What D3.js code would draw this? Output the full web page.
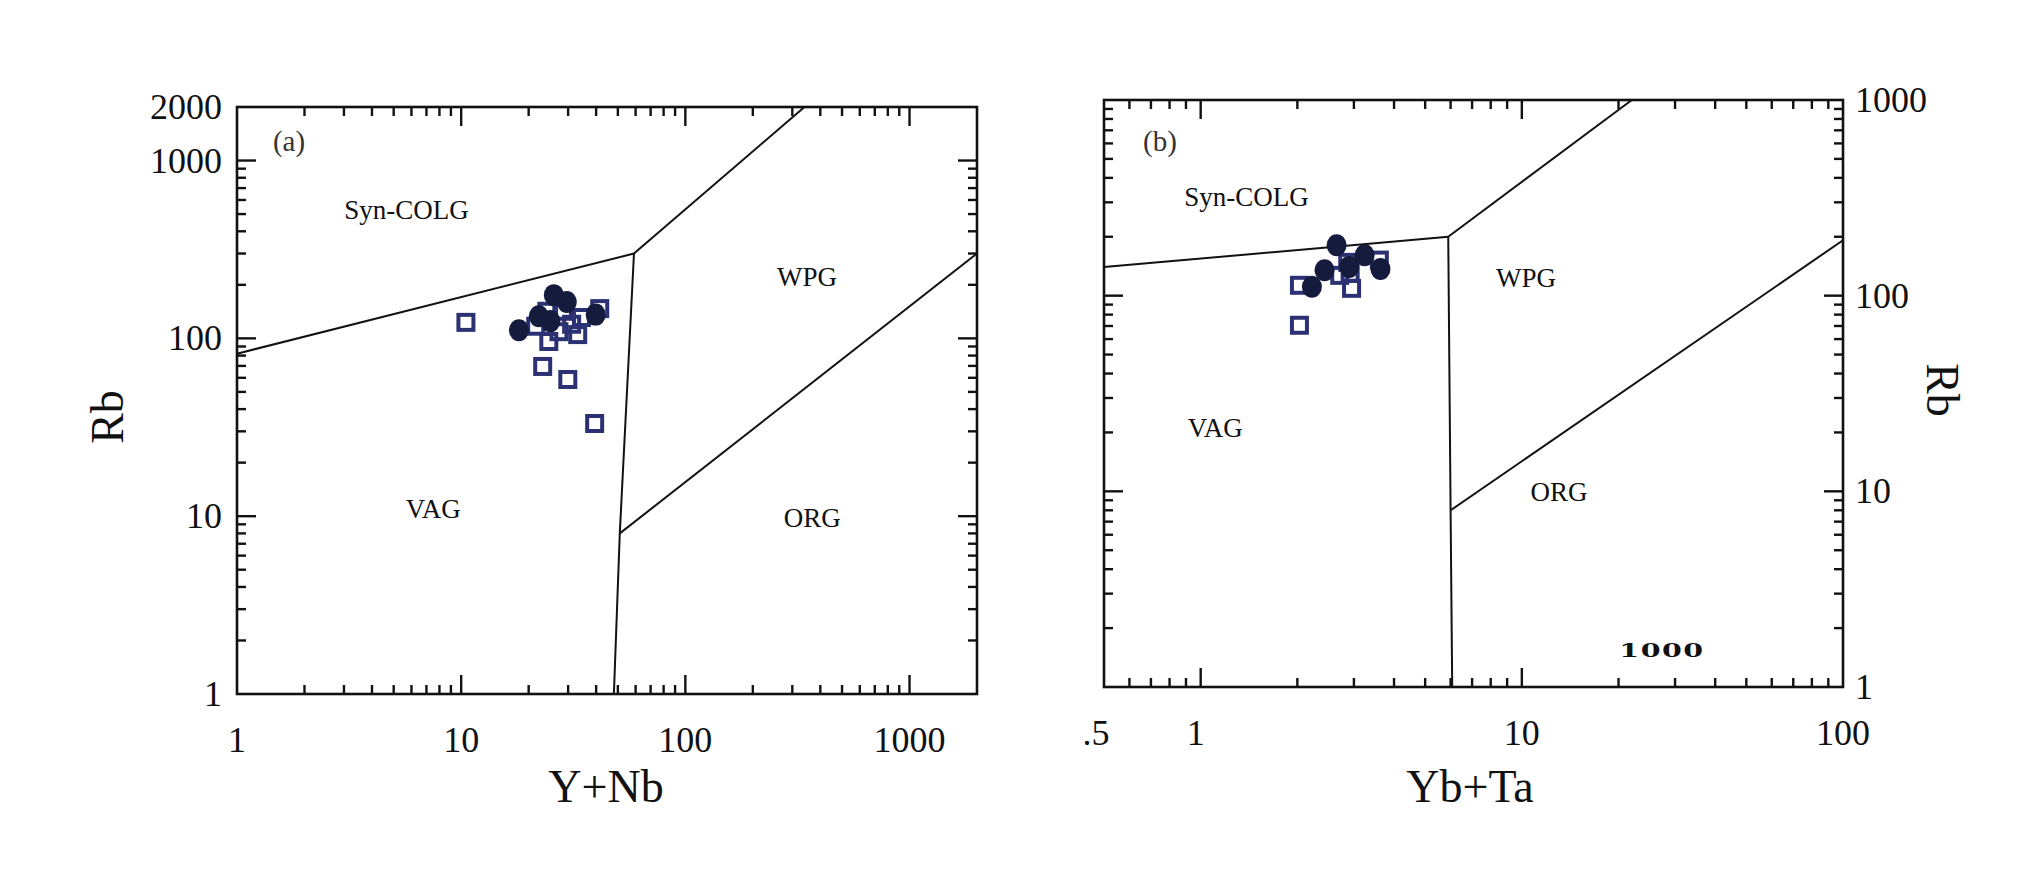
<!DOCTYPE html>
<html>
<head>
<meta charset="utf-8">
<script src="https://d3js.org/d3.v7.min.js"></script>
<style>
  html, body { margin: 0; padding: 0; background: #fff; }
  svg { display: block; }
  text { font-family: "Liberation Serif", "Times New Roman", serif; fill: #111; }
</style>
</head>
<body>
<script>
// ---------- DATA ----------
// Panel (a): Rb vs Y+Nb
const aCircleX = [18.1, 22.2, 25.9, 29.6, 39.8, 25.0];
const aCircleY = [111, 133, 175, 160, 136, 125];
const aSquareX = [10.5, 23.1, 29.9, 39.4, 41.5, 24.6, 33.1, 21.5, 24.1, 28.6, 27.3, 31.1, 34.4];
const aSquareY = [123, 69.5, 58.7, 33.2, 147, 96, 105, 117, 142, 142, 109, 120, 131];
const aBoundaries = [
  [[1, 82], [59, 300]],
  [[59, 300], [340, 2000]],
  [[59, 300], [51, 8], [48, 1]],
  [[51, 8], [2000, 300]]
];
const aFields = ["Syn-COLG", "WPG", "VAG", "ORG"];
const aFieldPos = [[5.7, 530], [349, 221], [7.5, 11], [368, 9.8]];
const aXTickLabels = ["1", "10", "100", "1000"];
const aXTickValues = [1, 10, 100, 1000];
const aYTickLabels = ["1", "10", "100", "1000", "2000"];
const aYTickValues = [1, 10, 100, 1000, 2000];

// Panel (b): Rb vs Yb+Ta
const bCircleX = [2.65, 3.24, 2.43, 2.22, 3.63, 2.9];
const bCircleY = [181, 161, 135, 111, 137, 140];
const bSquareX = [2.03, 2.03, 2.87, 2.95, 3.6, 2.71, 2.92];
const bSquareY = [113, 70.6, 148, 109, 152, 127, 130];
const bBoundaries = [
  [[0.5, 140], [5.9, 200]],
  [[5.9, 200], [22, 1000]],
  [[5.9, 200], [6.0, 8], [6.07, 1]],
  [[6.0, 8], [100, 192]]
];
const bFields = ["Syn-COLG", "WPG", "VAG", "ORG"];
const bFieldPos = [[1.39, 319], [10.3, 123], [1.11, 21], [13.05, 9.9]];
const bXTickLabels = [".5", "1", "10", "100"];
const bXTickValues = [0.5, 1, 10, 100];
const bYTickLabels = ["1", "10", "100", "1000"];
const bYTickValues = [1, 10, 100, 1000];

// ---------- DRAW ----------
const W = 2033, H = 886;
const svg = d3.select("body").append("svg").attr("width", W).attr("height", H);
svg.append("rect").attr("width", W).attr("height", H).attr("fill", "#fff");

const circleColor = "#141b3d";
const squareColor = "#2b3172";

function minorTicks(lo, hi) {
  const out = [];
  for (let e = Math.floor(Math.log10(lo)); e <= Math.ceil(Math.log10(hi)); e++) {
    for (let k = 1; k <= 9; k++) {
      const v = k * Math.pow(10, e);
      if (v > lo * 1.0001 && v < hi * 0.9999) out.push({ v, major: k === 1 });
    }
  }
  return out;
}

function panel(cfg) {
  const x = d3.scaleLog().domain(cfg.xDomain).range([cfg.left, cfg.right]);
  const y = d3.scaleLog().domain(cfg.yDomain).range([cfg.bottom, cfg.top]);
  const g = svg.append("g");

  // boundaries
  const line = d3.line().x(d => x(d[0])).y(d => y(d[1]));
  cfg.boundaries.forEach(b => {
    g.append("path").attr("d", line(b)).attr("fill", "none")
      .attr("stroke", "#111").attr("stroke-width", 2);
  });

  // ticks (inward, all four sides)
  const majL = 19, minL = 9, tw = 2.4;
  minorTicks(cfg.xDomain[0], cfg.xDomain[1]).forEach(t => {
    const L = t.major ? majL : minL, px = x(t.v);
    g.append("line").attr("x1", px).attr("x2", px).attr("y1", cfg.bottom).attr("y2", cfg.bottom - L)
      .attr("stroke", "#111").attr("stroke-width", tw);
    g.append("line").attr("x1", px).attr("x2", px).attr("y1", cfg.top).attr("y2", cfg.top + L)
      .attr("stroke", "#111").attr("stroke-width", tw);
  });
  minorTicks(cfg.yDomain[0], cfg.yDomain[1]).forEach(t => {
    const L = t.major ? majL : minL, py = y(t.v);
    g.append("line").attr("x1", cfg.left).attr("x2", cfg.left + L).attr("y1", py).attr("y2", py)
      .attr("stroke", "#111").attr("stroke-width", tw);
    g.append("line").attr("x1", cfg.right).attr("x2", cfg.right - L).attr("y1", py).attr("y2", py)
      .attr("stroke", "#111").attr("stroke-width", tw);
  });

  // frame
  g.append("rect").attr("x", cfg.left).attr("y", cfg.top)
    .attr("width", cfg.right - cfg.left).attr("height", cfg.bottom - cfg.top)
    .attr("fill", "none").attr("stroke", "#111").attr("stroke-width", 2.6);

  // tick labels
  cfg.xTickValues.forEach((v, i) => {
    g.append("text").attr("x", x(v) + (cfg.xLabelShift[i] || 0)).attr("y", cfg.xLabelY)
      .attr("text-anchor", "middle").attr("dominant-baseline", "central")
      .attr("font-size", 36).text(cfg.xTickLabels[i]);
  });
  cfg.yTickValues.forEach((v, i) => {
    g.append("text").attr("x", cfg.yLabelX).attr("y", y(v))
      .attr("text-anchor", cfg.yLabelAnchor).attr("dominant-baseline", "central")
      .attr("font-size", 36).text(cfg.yTickLabels[i]);
  });

  // field names
  cfg.fields.forEach((f, i) => {
    g.append("text").attr("x", x(cfg.fieldPos[i][0])).attr("y", y(cfg.fieldPos[i][1]))
      .attr("text-anchor", "middle").attr("dominant-baseline", "central")
      .attr("font-size", 27).text(f);
  });

  // panel tag
  g.append("text").attr("x", cfg.tagPos[0]).attr("y", cfg.tagPos[1])
    .attr("text-anchor", "middle").attr("dominant-baseline", "central")
    .attr("font-size", 29).style("fill", "#333").text(cfg.tag);

  // axis titles
  g.append("text").attr("x", cfg.xTitlePos[0]).attr("y", cfg.xTitlePos[1])
    .attr("text-anchor", "middle").attr("font-size", 46).text(cfg.xTitle);
  g.append("text")
    .attr("transform", `translate(${cfg.yTitlePos[0]},${cfg.yTitlePos[1]}) rotate(${cfg.yTitleRot})`)
    .attr("text-anchor", "middle").attr("dominant-baseline", "central")
    .attr("font-size", 46).text("Rb");

  // points: squares then circles
  const s = 19;
  cfg.sqX.forEach((xv, i) => {
    g.append("rect").attr("x", x(xv) - s / 2 + 2).attr("y", y(cfg.sqY[i]) - s / 2 + 2)
      .attr("width", s - 4).attr("height", s - 4)
      .attr("fill", "none").attr("stroke", squareColor).attr("stroke-width", 4);
  });
  cfg.ciX.forEach((xv, i) => {
    g.append("ellipse").attr("cx", x(xv)).attr("cy", y(cfg.ciY[i]))
      .attr("rx", 10).attr("ry", 11).attr("fill", circleColor);
  });
  return { x, y, g };
}

panel({
  xDomain: [1, 2000], yDomain: [1, 2000],
  left: 237, right: 977, top: 107, bottom: 694,
  boundaries: aBoundaries, fields: aFields, fieldPos: aFieldPos,
  xTickValues: aXTickValues, xTickLabels: aXTickLabels, xLabelY: 740, xLabelShift: [],
  yTickValues: aYTickValues, yTickLabels: aYTickLabels, yLabelX: 222, yLabelAnchor: "end",
  tag: "(a)", tagPos: [289, 141],
  xTitle: "Y+Nb", xTitlePos: [606, 802],
  yTitlePos: [107, 417], yTitleRot: -90,
  ciX: aCircleX, ciY: aCircleY, sqX: aSquareX, sqY: aSquareY
});

const pb = panel({
  xDomain: [0.5, 100], yDomain: [1, 1000],
  left: 1104, right: 1843, top: 100, bottom: 687,
  boundaries: bBoundaries, fields: bFields, fieldPos: bFieldPos,
  xTickValues: bXTickValues, xTickLabels: bXTickLabels, xLabelY: 733, xLabelShift: [-8, -5, 0, 0],
  yTickValues: bYTickValues, yTickLabels: bYTickLabels, yLabelX: 1855, yLabelAnchor: "start",
  tag: "(b)", tagPos: [1160, 141],
  xTitle: "Yb+Ta", xTitlePos: [1470, 802],
  yTitlePos: [1942, 390], yTitleRot: 90,
  ciX: bCircleX, ciY: bCircleY, sqX: bSquareX, sqY: bSquareY
});

// stray "1000" annotation in panel (b)
pb.g.append("text")
  .attr("transform", "translate(1662,650) scale(1.5,1)")
  .attr("text-anchor", "middle").attr("dominant-baseline", "central")
  .attr("font-size", 19).attr("font-weight", "bold").attr("letter-spacing", 1)
  .style("font-family", "'DejaVu Serif', serif")
  .text("1000");
</script>
</body>
</html>
